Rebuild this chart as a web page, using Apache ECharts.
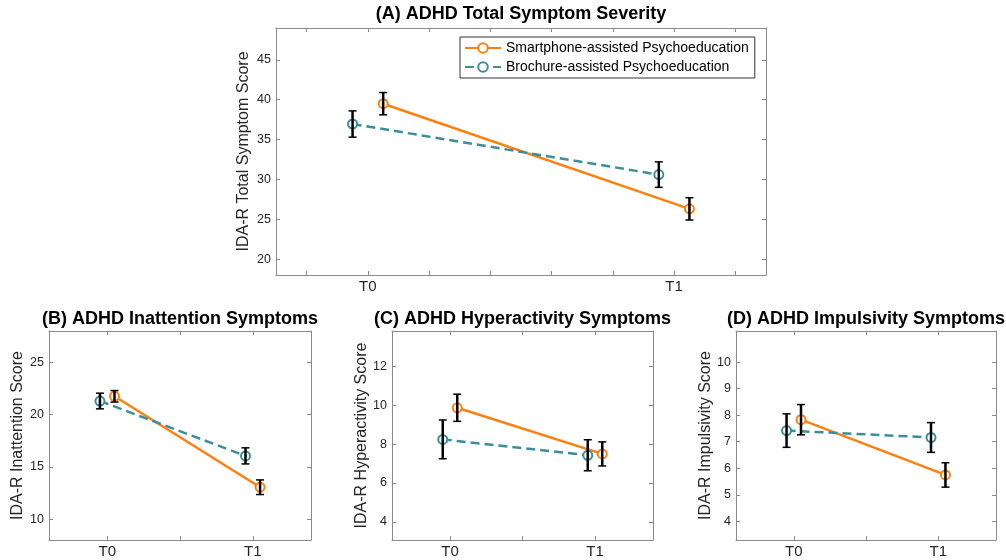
<!DOCTYPE html>
<html>
<head>
<meta charset="utf-8">
<script src="https://cdn.jsdelivr.net/npm/echarts@6/dist/echarts.min.js"></script>
<style>
  html, body { margin: 0; padding: 0; background: #fff; }
  #chart { width: 1006px; height: 560px; }
</style>
</head>
<body>
<div id="chart"></div>
<script>
// 时间点
const timeLabels = ['T0', 'T1']
const groupNames = ['Smartphone-assisted Psychoeducation', 'Brochure-assisted Psychoeducation']

// (A) total
const smartTotal = [39.5, 26.3]
const smartTotalErr = [1.4, 1.4]
const brochTotal = [36.95, 30.6]
const brochTotalErr = [1.65, 1.6]

// (B) inattention
const smartInatt = [21.75, 13.05]
const smartInattErr = [0.55, 0.7]
const brochInatt = [21.3, 16.05]
const brochInattErr = [0.75, 0.77]

// (C) hyperactivity
const smartHyper = [9.88, 7.5]
const smartHyperErr = [0.7, 0.62]
const brochHyper = [8.25, 7.43]
const brochHyperErr = [1.0, 0.8]

// (D) impulsivity
const smartImpul = [7.83, 5.75]
const smartImpulErr = [0.57, 0.46]
const brochImpul = [7.42, 7.16]
const brochImpulErr = [0.63, 0.56]

// y ticks
const yTicksA = [20, 25, 30, 35, 40, 45]
const yTicksB = [10, 15, 20, 25]
const yTicksC = [4, 6, 8, 10, 12]
const yTicksD = [4, 5, 6, 7, 8, 9, 10]

const ORANGE = '#FF7F0F'
const TEAL = '#3A8F9A'
const AXIS_COLOR = '#8a8a8a'
const TEXT_COLOR = '#262626'
const FONT = '"Liberation Sans", Arial, sans-serif'

const panels = [
  {
    title: '(A) ADHD Total Symptom Severity', yName: 'IDA-R Total Symptom Score',
    grid: { left: 276, top: 28, width: 490, height: 247, outerBoundsMode: 'none' },
    xMin: 0.7, xMax: 2.3, xTicks: [0.8, 1, 1.2, 1.4, 1.6, 1.8, 2, 2.2],
    yMin: 18, yMax: 49, yTicks: yTicksA, nameGap: 24,
    smart: smartTotal, smartErr: smartTotalErr, broch: brochTotal, brochErr: brochTotalErr
  },
  {
    title: '(B) ADHD Inattention Symptoms', yName: 'IDA-R Inattention Score',
    grid: { left: 49, top: 331, width: 262, height: 209, outerBoundsMode: 'none' },
    xMin: 0.6, xMax: 2.4, xTicks: [1, 1.5, 2],
    yMin: 8, yMax: 28, yTicks: yTicksB, nameGap: 23,
    smart: smartInatt, smartErr: smartInattErr, broch: brochInatt, brochErr: brochInattErr
  },
  {
    title: '(C) ADHD Hyperactivity Symptoms', yName: 'IDA-R Hyperactivity Score',
    grid: { left: 392, top: 331, width: 261, height: 209, outerBoundsMode: 'none' },
    xMin: 0.6, xMax: 2.4, xTicks: [1, 1.5, 2],
    yMin: 3.06, yMax: 13.84, yTicks: yTicksC, nameGap: 20,
    smart: smartHyper, smartErr: smartHyperErr, broch: brochHyper, brochErr: brochHyperErr
  },
  {
    title: '(D) ADHD Impulsivity Symptoms', yName: 'IDA-R Impulsivity Score',
    grid: { left: 736, top: 331, width: 260, height: 209, outerBoundsMode: 'none' },
    xMin: 0.6, xMax: 2.4, xTicks: [1, 1.5, 2],
    yMin: 3.3, yMax: 11.17, yTicks: yTicksD, nameGap: 20,
    smart: smartImpul, smartErr: smartImpulErr, broch: brochImpul, brochErr: brochImpulErr
  }
]

const OFFSET = 0.05

const errorBarItem = (params, api) => {
  const x = api.value(0)
  const lo = api.coord([x, api.value(1)])
  const hi = api.coord([x, api.value(2)])
  const cap = 4
  const style = { stroke: '#000', lineWidth: 2.5 }
  return {
    type: 'group',
    children: [
      { type: 'line', shape: { x1: lo[0], y1: lo[1], x2: hi[0], y2: hi[1] }, style },
      { type: 'line', shape: { x1: lo[0] - cap, y1: lo[1], x2: lo[0] + cap, y2: lo[1] }, style: { stroke: '#000', lineWidth: 1.5 } },
      { type: 'line', shape: { x1: hi[0] - cap, y1: hi[1], x2: hi[0] + cap, y2: hi[1] }, style: { stroke: '#000', lineWidth: 1.5 } }
    ]
  }
}

const titles = []
const grids = []
const xAxes = []
const yAxes = []
const series = []

panels.forEach((p, i) => {
  titles.push({
    text: p.title,
    left: p.grid.left + p.grid.width / 2,
    top: i === 0 ? 5 : 310,
    textAlign: 'center',
    padding: 0,
    textStyle: { fontFamily: FONT, fontSize: 18, fontWeight: 'bold', color: '#000' }
  })
  grids.push(p.grid)

  const tickStyle = { inside: true, length: 4, lineStyle: { color: AXIS_COLOR } }
  const lineStyle = { show: true, onZero: false, lineStyle: { color: AXIS_COLOR, width: 1 } }

  xAxes.push({
    type: 'value', gridIndex: i, position: 'bottom', min: p.xMin, max: p.xMax,
    axisLine: lineStyle, splitLine: { show: false },
    axisTick: { ...tickStyle, customValues: p.xTicks },
    axisLabel: {
      customValues: [1, 2], margin: 4,
      formatter: v => timeLabels[Math.round(v) - 1],
      fontFamily: FONT, fontSize: 15, color: TEXT_COLOR
    }
  })
  xAxes.push({
    type: 'value', gridIndex: i, position: 'top', min: p.xMin, max: p.xMax,
    axisLine: lineStyle, splitLine: { show: false },
    axisTick: { ...tickStyle, customValues: p.xTicks },
    axisLabel: { show: false }
  })
  yAxes.push({
    type: 'value', gridIndex: i, position: 'left', min: p.yMin, max: p.yMax,
    name: p.yName, nameLocation: 'middle', nameGap: p.nameGap,
    nameTextStyle: { fontFamily: FONT, fontSize: 16, color: TEXT_COLOR },
    axisLine: lineStyle, splitLine: { show: false },
    axisTick: { ...tickStyle, customValues: p.yTicks },
    axisLabel: { customValues: p.yTicks, margin: 5, fontFamily: FONT, fontSize: 12.5, color: TEXT_COLOR }
  })
  yAxes.push({
    type: 'value', gridIndex: i, position: 'right', min: p.yMin, max: p.yMax,
    axisLine: lineStyle, splitLine: { show: false },
    axisTick: { ...tickStyle, customValues: p.yTicks },
    axisLabel: { show: false }
  })

  const xi = i * 2
  const smartPts = p.smart.map((v, k) => [k + 1 + OFFSET, v])
  const brochPts = p.broch.map((v, k) => [k + 1 - OFFSET, v])

  series.push({
    name: groupNames[0], type: 'line', xAxisIndex: xi, yAxisIndex: xi,
    data: smartPts, symbol: 'emptyCircle', symbolSize: 9,
    lineStyle: { color: ORANGE, width: 2.5 },
    itemStyle: { color: ORANGE, borderWidth: 1.2 },
    z: 3, animation: false
  })
  series.push({
    name: groupNames[1], type: 'line', xAxisIndex: xi, yAxisIndex: xi,
    data: brochPts, symbol: 'emptyCircle', symbolSize: 9,
    lineStyle: { color: TEAL, width: 2.5, type: [9, 5] },
    itemStyle: { color: TEAL, borderWidth: 1.2 },
    z: 3, animation: false
  })
  series.push({
    type: 'custom', xAxisIndex: xi, yAxisIndex: xi, z: 4,
    renderItem: errorBarItem, animation: false,
    data: p.smart.map((v, k) => [k + 1 + OFFSET, v - p.smartErr[k], v + p.smartErr[k]])
  })
  series.push({
    type: 'custom', xAxisIndex: xi, yAxisIndex: xi, z: 4,
    renderItem: errorBarItem, animation: false,
    data: p.broch.map((v, k) => [k + 1 - OFFSET, v - p.brochErr[k], v + p.brochErr[k]])
  })
})

const chart = echarts.init(document.getElementById('chart'))
chart.setOption({
  animation: false,
  backgroundColor: '#fff',
  title: titles,
  legend: {
    data: groupNames,
    orient: 'vertical',
    left: 460, top: 37,
    padding: [4, 6, 4, 4],
    itemGap: 5,
    itemWidth: 36, itemHeight: 12,
    backgroundColor: '#fff',
    borderColor: '#333', borderWidth: 1, borderRadius: 0,
    textStyle: { fontFamily: FONT, fontSize: 14, color: '#000' }
  },
  grid: grids,
  xAxis: xAxes,
  yAxis: yAxes,
  series
})
</script>
</body>
</html>
